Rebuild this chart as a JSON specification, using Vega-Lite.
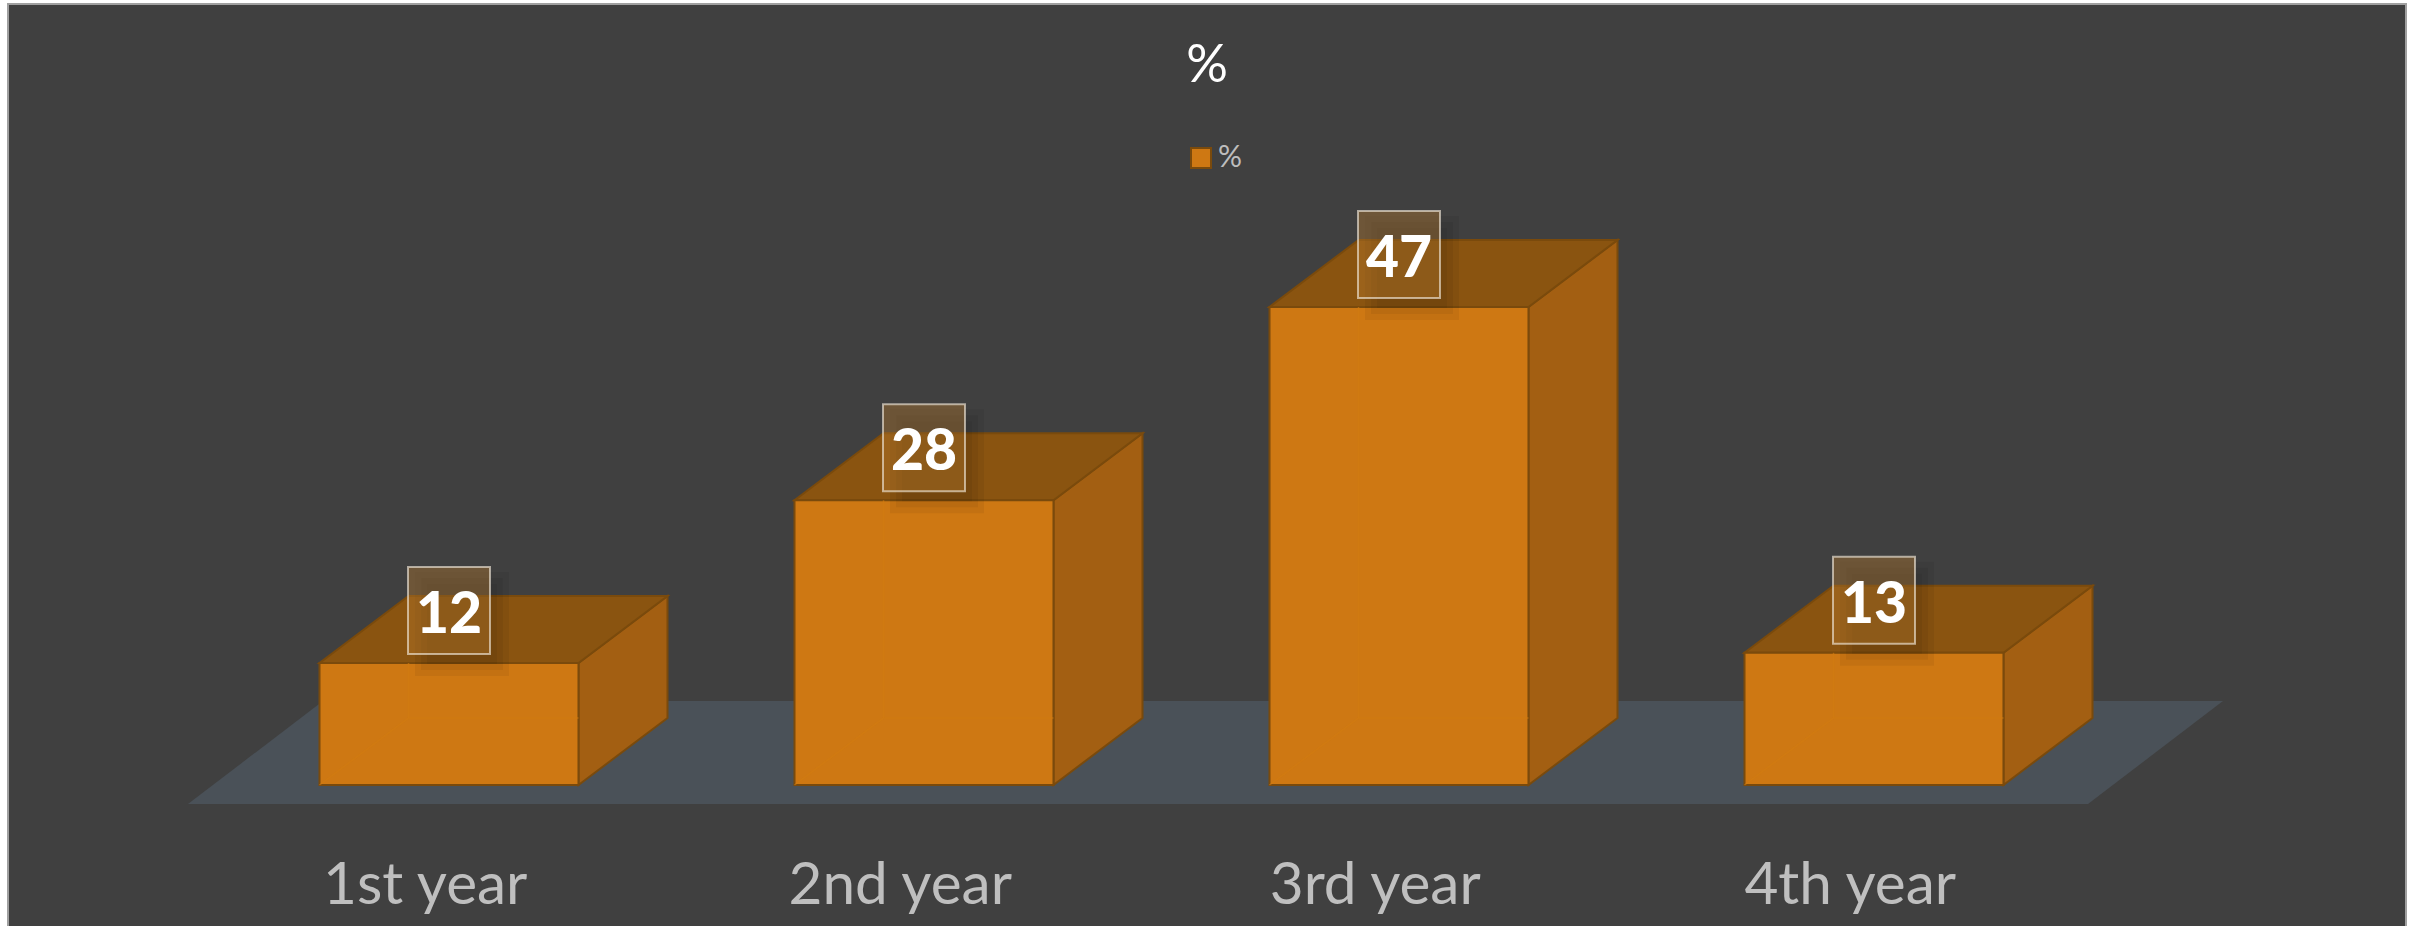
{
"$schema":"https://vega.github.io/schema/vega-lite/v6.json",
"autosize":{"type":"none"},
"padding":{"left":8,"top":4,"right":11,"bottom":0},
"width":2398,"height":924,
"background":"#ffffff",
"view":{"fill":"#404040","stroke":"#a0a0a0","strokeWidth":2},
"title":{"text":"%","anchor":"middle","frame":"group","offset":-130,"baseline":"alphabetic","font":"Lato","fontSize":52,"fontWeight":"normal","color":"#ffffff"},
"datasets":{
"floor":[
{"x":0.4505,"y":-1.87,"y2":-1.87},{"x":0.7347,"y":-1.87,"y2":8.26},{"x":4.4505,"y":-1.87,"y2":8.26},{"x":4.7347,"y":8.26,"y2":8.26}],
"side":[
{"year":"1st year","x":1.2726,"y":0,"y2":12},{"year":"1st year","x":1.46,"y":6.59,"y2":18.59},
{"year":"2nd year","x":2.2726,"y":0,"y2":28},{"year":"2nd year","x":2.46,"y":6.59,"y2":34.59},
{"year":"3rd year","x":3.2726,"y":0,"y2":47},{"year":"3rd year","x":3.46,"y":6.59,"y2":53.59},
{"year":"4th year","x":4.2726,"y":0,"y2":13},{"year":"4th year","x":4.46,"y":6.59,"y2":19.59}],
"top":[
{"year":"1st year","x":0.7274,"y":12,"y2":12},{"year":"1st year","x":0.9148,"y":12,"y2":18.59},{"year":"1st year","x":1.2726,"y":12,"y2":18.59},{"year":"1st year","x":1.46,"y":18.59,"y2":18.59},
{"year":"2nd year","x":1.7274,"y":28,"y2":28},{"year":"2nd year","x":1.9148,"y":28,"y2":34.59},{"year":"2nd year","x":2.2726,"y":28,"y2":34.59},{"year":"2nd year","x":2.46,"y":34.59,"y2":34.59},
{"year":"3rd year","x":2.7274,"y":47,"y2":47},{"year":"3rd year","x":2.9148,"y":47,"y2":53.59},{"year":"3rd year","x":3.2726,"y":47,"y2":53.59},{"year":"3rd year","x":3.46,"y":53.59,"y2":53.59},
{"year":"4th year","x":3.7274,"y":13,"y2":13},{"year":"4th year","x":3.9148,"y":13,"y2":19.59},{"year":"4th year","x":4.2726,"y":13,"y2":19.59},{"year":"4th year","x":4.46,"y":19.59,"y2":19.59}],
"bars":[
{"year":"1st year","series":"%","x":0.7274,"x2":1.2726,"y":12,"y2":0},
{"year":"2nd year","series":"%","x":1.7274,"x2":2.2726,"y":28,"y2":0},
{"year":"3rd year","series":"%","x":2.7274,"x2":3.2726,"y":47,"y2":0},
{"year":"4th year","series":"%","x":3.7274,"x2":4.2726,"y":13,"y2":0}],
"edges":[
{"edge":"1a","x":0.7274,"y":0},{"edge":"1a","x":0.9148,"y":6.59},{"edge":"1a","x":1.2726,"y":6.59},{"edge":"1b","x":0.9148,"y":6.59},{"edge":"1b","x":0.9148,"y":12},
{"edge":"2a","x":1.7274,"y":0},{"edge":"2a","x":1.9148,"y":6.59},{"edge":"2a","x":2.2726,"y":6.59},{"edge":"2b","x":1.9148,"y":6.59},{"edge":"2b","x":1.9148,"y":28},
{"edge":"3a","x":2.7274,"y":0},{"edge":"3a","x":2.9148,"y":6.59},{"edge":"3a","x":3.2726,"y":6.59},{"edge":"3b","x":2.9148,"y":6.59},{"edge":"3b","x":2.9148,"y":47},
{"edge":"4a","x":3.7274,"y":0},{"edge":"4a","x":3.9148,"y":6.59},{"edge":"4a","x":4.2726,"y":6.59},{"edge":"4b","x":3.9148,"y":6.59},{"edge":"4b","x":3.9148,"y":13}],
"shadows":[
{"x":0.9284,"x2":1.1264,"y":10.72,"y2":20.94},{"x":0.9411,"x2":1.1137,"y":11.31,"y2":20.35},{"x":0.9537,"x2":1.1011,"y":11.9,"y2":19.76},
{"x":1.9284,"x2":2.1264,"y":26.72,"y2":36.94},{"x":1.9411,"x2":2.1137,"y":27.31,"y2":36.35},{"x":1.9537,"x2":2.1011,"y":27.9,"y2":35.76},
{"x":2.9284,"x2":3.1264,"y":45.72,"y2":55.94},{"x":2.9411,"x2":3.1137,"y":46.31,"y2":55.35},{"x":2.9537,"x2":3.1011,"y":46.9,"y2":54.76},
{"x":3.9284,"x2":4.1264,"y":11.72,"y2":21.94},{"x":3.9411,"x2":4.1137,"y":12.31,"y2":21.35},{"x":3.9537,"x2":4.1011,"y":12.9,"y2":20.76}],
"boxes":[
{"year":"1st year","x":0.9137,"x2":1.0863,"y":12.885,"y2":21.44},
{"year":"2nd year","x":1.9137,"x2":2.0863,"y":28.885,"y2":37.44},
{"year":"3rd year","x":2.9137,"x2":3.0863,"y":47.885,"y2":56.44},
{"year":"4th year","x":3.9137,"x2":4.0863,"y":13.885,"y2":22.44}],
"values":[
{"year":"1st year","x":1,"y":12},
{"year":"2nd year","x":2,"y":28},
{"year":"3rd year","x":3,"y":47},
{"year":"4th year","x":4,"y":13}],
"categories":[
{"year":"1st year","x":0.95,"y":-11.7},
{"year":"2nd year","x":1.95,"y":-11.7},
{"year":"3rd year","x":2.95,"y":-11.7},
{"year":"4th year","x":3.95,"y":-11.7}]
},
"data":{"name":"floor"},
"encoding":{
"x":{"field":"x","type":"quantitative","axis":null,"scale":{"domain":[0.0716,5.12],"nice":false,"zero":false}},
"y":{"field":"y","type":"quantitative","axis":null,"scale":{"domain":[-14.06,76.79],"nice":false,"zero":false}}
},
"layer":[
{"data":{"name":"floor"},"mark":{"type":"area","fill":"#4a5158"},"encoding":{"y2":{"field":"y2"}}},
{"data":{"name":"side"},"mark":{"type":"area","fill":"#a35f12","stroke":"#7a4a0c","strokeWidth":2},"encoding":{"y2":{"field":"y2"},"detail":{"field":"year"}}},
{"data":{"name":"top"},"mark":{"type":"area","fill":"#8a5410","stroke":"#7a4a0c","strokeWidth":2},"encoding":{"y2":{"field":"y2"},"detail":{"field":"year"}}},
{"data":{"name":"bars"},"mark":{"type":"bar","stroke":"#7a4a0c","strokeWidth":2},"encoding":{"x2":{"field":"x2"},"y2":{"field":"y2"},
"color":{"field":"series","type":"nominal","scale":{"range":["#ce7813"]},"legend":{"title":null,"orient":"none","legendX":1178,"legendY":139,"symbolType":"square","symbolSize":400,"symbolStrokeColor":"#7a4a0c","symbolStrokeWidth":2,"labelFont":"Lato","labelFontSize":30,"labelColor":"#bdbdbd","labelOffset":2}}}},
{"data":{"name":"edges"},"mark":{"type":"line","stroke":"#d27c10","strokeWidth":1.5,"strokeOpacity":0.6},"encoding":{"detail":{"field":"edge"}}},
{"data":{"name":"shadows"},"mark":{"type":"bar","fill":"#000000","opacity":0.05},"encoding":{"x2":{"field":"x2"},"y2":{"field":"y2"}}},
{"data":{"name":"boxes"},"mark":{"type":"bar","fill":"#b4782c","fillOpacity":0.4,"stroke":"#f0e6d8","strokeOpacity":0.65,"strokeWidth":2},"encoding":{"x2":{"field":"x2"},"y2":{"field":"y2"}}},
{"data":{"name":"values"},"mark":{"type":"text","font":"Lato","fontWeight":900,"fontSize":57,"color":"#ffffff","baseline":"alphabetic","align":"center","dy":-30},"encoding":{"text":{"field":"y","type":"quantitative"}}},
{"data":{"name":"categories"},"mark":{"type":"text","font":"Lato","fontSize":58.5,"color":"#bfbfbf","baseline":"alphabetic","align":"center"},"encoding":{"text":{"field":"year","type":"nominal"}}}
]
}
